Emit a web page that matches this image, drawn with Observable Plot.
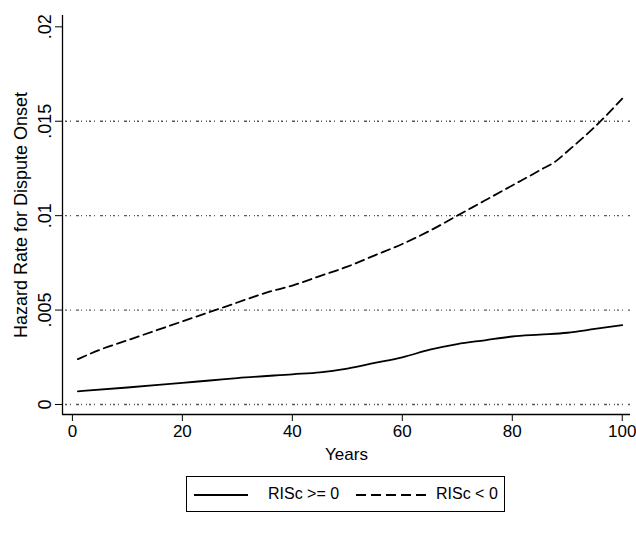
<!DOCTYPE html>
<html><head><meta charset="utf-8">
<script src="https://cdn.jsdelivr.net/npm/d3@7"></script>
<script src="https://cdn.jsdelivr.net/npm/@observablehq/plot@0.6"></script>
<style>
body{margin:0;background:#fff;font-family:"Liberation Sans",Arial,sans-serif;}
#wrap{position:relative;width:636px;height:539px;}
#legend{position:absolute;left:186px;top:476px;width:319px;height:36px;border:1px solid #000;box-sizing:border-box;font-size:16px;color:#000;}
#legend .sw{position:absolute;top:17px;height:1.6px;}
#legend .lb{position:absolute;top:8px;line-height:18px;white-space:nowrap;}
</style></head><body>
<div id="wrap">
<div id="chart"></div>
<div id="legend"></div>
</div>
<script>
const seriesNames = ["RISc >= 0", "RISc < 0"];
const posYears = [1, 10, 20, 25, 30, 40, 45, 50, 55, 60, 65, 70, 75, 80, 85, 90, 95, 100];
const posValues = [0.0007, 0.0009, 0.00115, 0.00127, 0.0014, 0.0016, 0.0017, 0.0019, 0.0022, 0.0025, 0.0029, 0.0032, 0.0034, 0.0036, 0.0037, 0.0038, 0.0040, 0.0042];
const negYears = [1, 5, 10, 15, 20, 25, 30, 35, 40, 45, 50, 55, 60, 65, 70, 75, 80, 85, 88, 90, 95, 100];
const negValues = [0.0024, 0.0029, 0.0034, 0.0039, 0.0044, 0.0049, 0.0054, 0.0059, 0.0063, 0.0068, 0.0073, 0.0079, 0.0085, 0.0092, 0.0100, 0.0108, 0.0116, 0.0124, 0.0129, 0.0134, 0.0147, 0.0162];
const xTicks = [0, 20, 40, 60, 80, 100];
const yTicks = [0, 0.005, 0.01, 0.015, 0.02];
const yTickLabels = ["0", ".005", ".01", ".015", ".02"];
const gridValues = [0, 0.005, 0.01, 0.015];
const xLabel = "Years";
const yLabel = "Hazard Rate for Dispute Onset";

const xDomain = [-1.8, 101.5];
const yDomain = [-0.00053, 0.0206];

const posData = posYears.map((x, i) => ({x, y: posValues[i], s: seriesNames[0]}));
const negData = negYears.map((x, i) => ({x, y: negValues[i], s: seriesNames[1]}));

const chart = Plot.plot({
  width: 636, height: 465,
  marginLeft: 62, marginRight: 6, marginTop: 15, marginBottom: 51,
  style: {fontFamily: '"Liberation Sans", Arial, sans-serif', fontSize: "17px", color: "#000", background: "#fff"},
  x: {domain: xDomain},
  y: {domain: yDomain},
  marks: [
    Plot.ruleY(gridValues, {stroke: "#222", strokeWidth: 1.4, strokeDasharray: "1,2,2,3,1,5,3,2,1,4", strokeOpacity: 0.75}),
    Plot.ruleX([xDomain[0]], {stroke: "#000", strokeWidth: 1.3}),
    Plot.ruleY([yDomain[0]], {stroke: "#000", strokeWidth: 1.3}),
    Plot.axisX({ticks: xTicks, tickSize: 7, tickPadding: 3, fontSize: 17, label: xLabel, labelAnchor: "center", labelArrow: "none", labelOffset: 45}),
    Plot.axisY({ticks: yTicks, tickFormat: d => yTickLabels[yTicks.indexOf(d)], tickSize: 7, tickRotate: -90, tickPadding: 5, fontSize: 18, label: yLabel, labelAnchor: "center", labelArrow: "none", labelOffset: 48}),
    Plot.line(posData, {x: "x", y: "y", stroke: "#000", strokeWidth: 1.8, curve: "monotone-x"}),
    Plot.line(negData, {x: "x", y: "y", stroke: "#000", strokeWidth: 1.8, strokeDasharray: "9,5", curve: "monotone-x"})
  ]
});
document.getElementById("chart").appendChild(chart);

const legend = document.getElementById("legend");
legend.innerHTML =
  `<div class="sw" style="left:7px;width:54px;background:#000"></div>` +
  `<div class="lb" style="left:81px">${seriesNames[0]}</div>` +
  `<div class="sw" style="left:169px;width:70px;background:repeating-linear-gradient(to right,#000 0 10px,transparent 10px 15px)"></div>` +
  `<div class="lb" style="left:249px">${seriesNames[1]}</div>`;
</script>
</body></html>
